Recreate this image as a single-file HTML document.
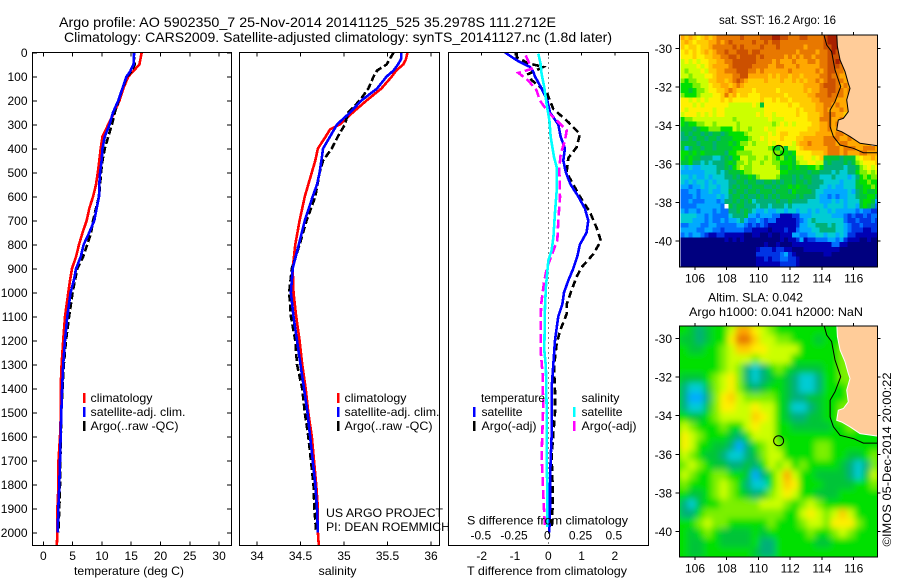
<!DOCTYPE html>
<html lang="en">
<head>
<meta charset="utf-8">
<title>Argo profile 5902350_7</title>
<style>
html,body{margin:0;padding:0;background:#fff;}
svg{display:block;}
text{font-family:"Liberation Sans",sans-serif;font-size:12px;fill:#000;}
.title{font-size:14px;}
</style>
</head>
<body>
<svg id="fig" xmlns="http://www.w3.org/2000/svg" width="900" height="580" viewBox="0 0 900 580">
  <defs>
    <clipPath id="clipP1"><rect x="33" y="53" width="198" height="492"/></clipPath>
    <clipPath id="clipP2"><rect x="240" y="53" width="199" height="492"/></clipPath>
    <clipPath id="clipP3"><rect x="449" y="53" width="199" height="492"/></clipPath>
    <clipPath id="clipM1"><rect x="680" y="35" width="197.5" height="232"/></clipPath>
    <clipPath id="clipM2"><rect x="680" y="326" width="197.5" height="231"/></clipPath>
    <filter id="smooth" x="-10%" y="-10%" width="120%" height="120%"><feGaussianBlur stdDeviation="3.2"/></filter>
  </defs>

  <text class="title" x="59" y="27" textLength="497" lengthAdjust="spacingAndGlyphs">Argo profile: AO 5902350_7 25-Nov-2014 20141125_525 35.2978S 111.2712E</text>
  <text class="title" x="64" y="42" textLength="548" lengthAdjust="spacingAndGlyphs">Climatology: CARS2009. Satellite-adjusted climatology: synTS_20141127.nc (1.8d later)</text>

  <g id="p1"></g>
  <g id="p2"></g>
  <g id="p3"></g>

  <g>
    <rect x="83" y="393" width="2.5" height="10" fill="#ff0000"/>
    <text x="90.5" y="402" textLength="62" lengthAdjust="spacingAndGlyphs">climatology</text>
    <rect x="83" y="407" width="2.5" height="10" fill="#0000ff"/>
    <text x="90.5" y="416" textLength="95" lengthAdjust="spacingAndGlyphs">satellite-adj. clim.</text>
    <rect x="83" y="421" width="2.5" height="10" fill="#000"/>
    <text x="90.5" y="430" textLength="88" lengthAdjust="spacingAndGlyphs">Argo(..raw -QC)</text>
  </g>
  <g>
    <rect x="337" y="393" width="2.5" height="10" fill="#ff0000"/>
    <text x="344.5" y="402" textLength="62" lengthAdjust="spacingAndGlyphs">climatology</text>
    <rect x="337" y="407" width="2.5" height="10" fill="#0000ff"/>
    <text x="344.5" y="416" textLength="95" lengthAdjust="spacingAndGlyphs">satellite-adj. clim.</text>
    <rect x="337" y="421" width="2.5" height="10" fill="#000"/>
    <text x="344.5" y="430" textLength="88" lengthAdjust="spacingAndGlyphs">Argo(..raw -QC)</text>
    <text x="326" y="517" textLength="117" lengthAdjust="spacingAndGlyphs">US ARGO PROJECT</text>
    <text x="326" y="531" textLength="124" lengthAdjust="spacingAndGlyphs">PI: DEAN ROEMMICH</text>
  </g>
  <g>
    <text x="481" y="402" textLength="64" lengthAdjust="spacingAndGlyphs">temperature</text>
    <rect x="473" y="407" width="2.5" height="10" fill="#0000ff"/>
    <text x="481.5" y="416" textLength="41" lengthAdjust="spacingAndGlyphs">satellite</text>
    <rect x="473" y="421" width="2.5" height="10" fill="#000"/>
    <text x="481.5" y="430" textLength="55" lengthAdjust="spacingAndGlyphs">Argo(-adj)</text>
    <text x="581.5" y="402" textLength="38" lengthAdjust="spacingAndGlyphs">salinity</text>
    <rect x="573" y="407" width="2.5" height="10" fill="#00ffff"/>
    <text x="581.5" y="416" textLength="41" lengthAdjust="spacingAndGlyphs">satellite</text>
    <rect x="573" y="421" width="2.5" height="10" fill="#ff00ff"/>
    <text x="581.5" y="430" textLength="55" lengthAdjust="spacingAndGlyphs">Argo(-adj)</text>
  </g>

  <g id="m1"></g>
  <g id="m2"></g>

  <text x="719" y="24" textLength="117" lengthAdjust="spacingAndGlyphs">sat. SST: 16.2 Argo: 16</text>
  <text x="708" y="301.5" textLength="95" lengthAdjust="spacingAndGlyphs">Altim. SLA: 0.042</text>
  <text x="689" y="316" textLength="174" lengthAdjust="spacingAndGlyphs">Argo h1000: 0.041 h2000: NaN</text>
  <text transform="translate(891,546.5) rotate(-90)" textLength="174" lengthAdjust="spacingAndGlyphs">©IMOS 05-Dec-2014 20:00:22</text>
</svg>

<script>
// ---------- profile data ----------
const depthTicks = [0,100,200,300,400,500,600,700,800,900,1000,1100,1200,1300,1400,1500,1600,1700,1800,1900,2000];
const tempTicks = [0,5,10,15,20,25,30];
const salTicks = [34,34.5,35,35.5,36];
const salTickLabels = ['34','34.5','35','35.5','36'];
const tDiffTicks = [-2,-1,0,1,2];
const sDiffTicks = [-0.5,-0.25,0,0.25,0.5];
const sDiffTickLabels = ['-0.5','-0.25','0','0.25','0.5'];

const climTDepth = [0,50,100,150,200,250,300,350,400,450,500,550,600,650,700,750,800,850,900,950,1000,1100,1200,1300,1400,1500,1600,1700,1800,1900,2000,2055];
const climT = [16.8,16.4,14.5,13.65,13,12.1,11.1,10.1,9.8,9.55,9.3,9,8.5,7.85,7.4,6.7,6.1,5.6,4.9,4.55,4.27,3.7,3.4,3.13,2.96,3,2.85,2.6,2.6,2.4,2.4,2.3];
const satTDepth = [0,50,80,100,150,200,250,300,350,400,450,500,550,600,650,700,750,800,850,900,950,1000,1100,1200,1300,1400,1500,1600,1700,1800,1900,2000];
const satT = [15.5,15.4,14.8,14.2,13.5,12.8,11.9,11.3,10.5,10.1,9.95,9.7,9.55,9.5,9.1,8.7,7.85,6.9,6.4,5.6,5.2,4.66,4.1,3.7,3.4,3.2,3.07,2.96,2.85,2.73,2.56,2.45];
const argoTDepth = [0,50,80,100,150,200,250,300,350,400,450,500,550,600,650,700,750,800,850,900,950,1000,1100,1200,1300,1400,1500,1600,1700,1800,1900,2000];
const argoT = [15.4,15.6,15,14.3,13.5,12.85,12.2,11.7,11.1,10.5,10.1,9.85,9.7,9.5,9,8.5,8.15,7.5,6.83,5.8,5.4,5,4.4,3.87,3.5,3.3,3.07,3,2.9,2.85,2.73,2.56];

const climSDepth = [0,30,50,75,100,150,200,250,300,320,350,400,450,500,600,700,800,900,1000,1100,1200,1300,1400,1500,1600,1700,1800,1900,2000,2055];
const climS = [35.73,35.71,35.68,35.6,35.55,35.43,35.26,35.1,34.95,34.84,34.79,34.7,34.67,34.63,34.55,34.49,34.44,34.41,34.42,34.45,34.49,34.52,34.56,34.59,34.63,34.655,34.68,34.7,34.7,34.71];
const satSDepth = [0,25,50,75,100,150,200,250,300,350,400,450,500,550,600,700,800,900,1000,1100,1200,1300,1400,1500,1600,1700,1800,1900,2000];
const satS = [35.66,35.66,35.62,35.57,35.49,35.38,35.2,35.07,34.92,34.84,34.76,34.74,34.72,34.69,34.64,34.55,34.48,34.41,34.39,34.42,34.46,34.5,34.54,34.58,34.61,34.64,34.67,34.69,34.7];
const argoSDepth = [0,25,50,75,100,150,200,250,300,350,400,450,500,600,700,800,900,1000,1100,1200,1300,1400,1500,1600,1700,1800,1900,2000];
const argoS = [35.57,35.53,35.49,35.38,35.34,35.28,35.18,35.05,35.01,34.93,34.86,34.76,34.72,34.67,34.57,34.49,34.4,34.37,34.39,34.44,34.46,34.52,34.55,34.59,34.62,34.65,34.66,34.68];

const tSatDepth = [0,25,40,60,80,100,150,200,250,300,350,400,450,500,550,600,650,700,750,800,850,900,950,1000,1050,1100,1150,1200,1300,1400,1500,1600,1700,1800,1900,2000];
const tSatDiff = [-1.3,-1.03,-0.85,-0.55,-0.45,-0.4,-0.2,-0.03,0.05,0.3,0.37,0.5,0.45,0.53,0.67,0.9,1.1,1.2,1.15,0.95,0.87,0.75,0.6,0.47,0.42,0.3,0.25,0.2,0.15,0.1,0.1,0.1,0.07,0.05,0.05,0.03];
const tArgoDepth = [0,20,45,60,90,115,165,235,290,340,395,440,500,600,665,730,785,840,895,935,990,1050,1090,1160,1215,1310,1410,1500,1680,1800,1895,1980];
const tArgoDiff = [-0.95,-0.95,-0.6,-0.15,-0.6,-0.5,-0.05,0.15,0.6,0.95,0.85,0.6,0.55,0.95,1.25,1.45,1.58,1.35,1.0,0.85,0.7,0.55,0.55,0.35,0.25,0.17,0.2,0.2,0.1,0.13,0.13,0.1];
const sSatDepth = [5,47,90,145,215,283,353,436,478,575,672,770,825,867,978,1060,1240,1310,1475,1655,1810,1978];
const sSatDiff = [-0.075,-0.058,-0.05,-0.03,-0.013,0.008,0.018,0.043,0.063,0.063,0.05,0.038,0.025,0,-0.018,-0.025,-0.03,-0.018,-0.013,-0.013,-0.008,-0.008];
const sArgoDepth = [12,68,85,117,158,200,249,283,325,367,422,485,603,700,783,825,894,950,1033,1060,1240,1340,1475,1680,1895,1978];
const sArgoDiff = [-0.17,-0.125,-0.225,-0.15,-0.088,-0.063,0,0.063,0.138,0.125,0.093,0.083,0.088,0.075,0.068,0.038,-0.008,-0.03,-0.05,-0.055,-0.058,-0.043,-0.038,-0.05,-0.033,-0.025];

// ---------- map data ----------
const mapLonTicks = [106,108,110,112,114,116];
const mapLatTicks = [-30,-32,-34,-36,-38,-40];
const profileLon = [111.27];
const profileLat = [-35.3];
const colorLevels = ['#00007f','#0000b4','#0034e4','#0070ff','#00aaff','#00ccd4','#00b078','#00c438','#00e000','#7cf000','#ccff00','#fff000','#ffcc00','#ffa800','#e87800','#cc5000','#a82000'];
const coastLon = [114.93,114.97,115.14,115.45,115.66,115.77,115.56,115.66,115.35,115.03,114.93,115.24,115.77,116.4,117.6];
const coastLat = [-29.2,-29.91,-30.61,-31.21,-31.82,-32.08,-32.68,-33.29,-33.63,-33.72,-34.24,-34.33,-34.58,-34.93,-35.07];
const isobathLon = [114.09,114.3,114.61,114.82,115.18,114.82,114.51,114.51,114.72,115.14,115.98,116.61,117.6];
const isobathLat = [-29.2,-29.83,-30.17,-31.12,-31.99,-32.77,-33.2,-34.07,-34.58,-35.02,-35.19,-35.42,-35.42];

// colour level per 0.25-degree cell (north to south, west to east); cells under land are omitted
const sstRows = [
[13,12,13,12,11,12,13,12,13,14,14,14,14,14,14,15,14,14,14,14,15,15,15,16,16,15,15,14,14,14,15,15,14,14,14,14,15,16,16,16],
[12,13,12,11,12,12,12,13,13,14,13,14,15,14,14,14,14,14,15,14,14,15,14,15,15,14,14,14,14,14,14,14,14,14,14,14,15,16,16,16],
[12,11,12,12,11,12,12,13,14,14,14,14,14,15,14,15,14,14,14,14,15,14,14,14,15,14,14,14,14,14,14,13,14,14,14,14,15,15,16,16],
[11,12,11,12,11,12,13,12,13,14,14,15,14,14,15,15,15,14,15,15,14,14,14,14,14,14,14,14,14,13,14,14,14,14,13,14,14,15,16,15,15],
[11,11,11,12,11,11,12,12,13,13,14,14,15,15,14,15,15,15,15,14,15,14,14,14,14,14,13,14,13,14,13,14,14,13,14,14,14,15,15,15,15],
[10,11,10,11,10,11,11,12,12,13,13,14,14,15,15,15,15,15,15,14,14,14,14,13,14,13,13,13,14,13,13,13,14,14,13,14,14,15,15,16,15],
[10,10,10,10,11,10,11,12,13,13,13,13,14,15,15,15,15,15,14,14,14,14,13,13,14,14,13,13,13,14,13,13,13,13,13,14,14,15,15,15,14],
[10,9,10,10,10,11,10,12,12,13,13,14,14,14,15,15,15,14,14,13,14,13,13,13,13,13,13,14,13,13,13,13,13,13,14,13,14,15,15,14,14,13],
[10,10,9,10,10,10,11,11,12,13,13,13,13,14,14,15,15,13,13,13,13,13,12,13,12,13,13,12,13,13,12,13,13,13,13,14,14,15,14,14,13,13],
[9,8,9,9,10,10,10,12,12,13,13,12,13,14,15,14,13,12,12,12,12,13,12,12,12,13,12,12,13,12,13,12,13,13,14,13,14,15,15,14,14,13,13],
[8,8,8,9,9,10,10,11,12,12,13,13,12,13,14,13,12,12,12,12,12,12,12,12,12,12,12,12,12,12,12,13,13,13,13,14,15,15,15,14,13,14,13,13],
[8,8,7,8,9,9,10,11,11,12,12,13,14,13,12,12,12,12,11,12,12,12,12,12,11,12,12,12,12,12,12,13,12,13,13,14,14,15,15,14,14,13,14,14],
[9,8,8,8,9,10,10,10,11,11,12,14,12,13,11,12,12,11,11,11,12,12,12,12,12,12,11,12,12,12,12,12,13,13,14,14,14,15,14,14,14,13,14,14],
[11,11,10,11,10,11,10,11,11,11,12,11,12,11,11,11,11,11,11,11,12,11,11,12,11,12,12,11,12,12,12,12,12,13,13,14,14,14,14,13,13,13,14,14],
[11,11,11,10,11,10,11,11,11,11,11,11,10,10,10,10,10,10,11,10,7,11,11,11,11,11,11,12,11,11,12,12,12,12,13,13,14,14,13,14,13,13,13,13],
[11,10,11,11,11,11,11,11,10,11,11,10,10,10,10,10,10,10,10,10,10,11,11,11,11,11,11,11,11,12,11,12,12,12,13,13,14,13,13,13,14,13,13,13],
[10,11,11,11,10,11,10,11,10,11,11,10,10,10,10,10,10,10,10,11,10,11,11,10,11,11,11,11,11,12,11,11,12,12,12,13,14,14,14,13,13,12,13,13],
[8,9,9,10,10,10,10,10,10,10,10,10,10,9,10,10,10,10,10,10,10,10,11,10,10,10,11,11,11,11,11,11,12,12,12,14,14,14,13,13,14,13,13,13],
[8,7,8,8,9,9,10,10,9,10,10,10,10,10,9,10,10,10,10,10,10,10,10,9,10,11,10,11,10,11,11,11,11,12,12,13,13,14,13,14,13,13,13],
[7,7,7,6,7,8,8,9,9,9,8,8,8,10,9,10,10,9,10,10,10,11,10,10,11,11,11,11,11,11,11,11,12,12,12,13,13,14,13,13,13,13],
[6,7,6,7,7,6,7,6,7,7,6,7,8,8,8,8,9,10,10,10,10,10,11,10,11,12,12,11,11,11,12,12,12,12,13,13,13,13,13,14,14,13,13,13],
[6,6,7,6,7,7,6,7,7,6,7,7,7,8,8,8,8,9,10,10,11,10,11,11,11,12,11,11,11,12,12,13,13,13,13,13,14,14,14,14,13,13,14,13,13,13],
[7,7,7,7,6,7,7,7,6,7,7,7,8,7,8,9,9,10,9,10,10,10,11,10,11,11,11,11,10,12,13,13,14,13,13,13,14,14,14,13,14,14,13,13,13,13,13,13],
[7,4,6,7,7,6,7,7,6,7,7,7,7,8,8,8,10,10,10,10,10,10,9,8,7,9,7,10,10,11,12,13,13,13,13,13,13,14,14,14,13,14,14,14,13,13,14,14,14,13],
[8,8,7,8,7,8,7,7,7,7,7,6,8,8,9,9,9,9,10,10,10,10,10,9,9,8,8,7,8,11,11,11,11,12,12,12,13,14,14,14,13,14,13,13,13,14,14,13,13,13],
[8,7,8,7,7,6,6,6,5,5,6,7,6,8,8,10,10,9,9,10,10,9,10,9,8,9,7,8,7,10,10,11,11,10,11,12,7,7,7,7,6,7,7,7,10,11,12,12,13,12],
[7,7,8,6,6,5,6,5,6,6,6,7,8,7,9,9,10,9,10,10,9,10,10,9,9,8,8,8,7,9,10,10,11,11,10,10,6,7,6,6,6,7,6,7,9,10,11,11,11,12],
[5,4,5,4,4,5,5,5,5,6,6,7,6,8,9,10,9,9,10,10,10,10,10,10,9,7,7,8,7,8,7,7,8,8,9,8,6,6,6,6,6,5,6,6,7,9,10,11,10,11],
[4,4,4,4,4,4,5,5,5,6,5,6,7,7,7,8,9,9,10,10,10,10,10,10,10,8,8,7,7,7,7,7,6,7,7,6,6,6,5,6,5,5,6,6,8,9,9,10,9,10],
[5,5,4,5,4,4,5,4,5,5,5,6,6,7,6,7,7,8,7,9,10,10,10,10,9,7,7,7,6,7,6,7,7,6,6,5,5,5,6,5,5,5,4,5,6,8,9,8,9,9],
[5,4,5,4,5,5,4,5,4,5,5,5,6,6,7,7,6,7,7,6,6,7,7,6,7,6,7,7,6,7,7,6,7,6,6,6,5,5,5,5,4,5,5,5,7,8,8,9,8,8],
[4,4,3,4,4,5,4,5,5,4,5,5,6,7,6,7,7,6,7,7,7,6,6,7,6,7,7,8,7,8,7,7,6,6,6,5,5,4,5,4,4,5,5,5,7,7,8,8,9,8],
[3,3,4,4,3,4,4,5,4,4,5,5,7,6,7,7,6,7,7,6,7,7,7,6,7,7,7,6,8,7,7,7,7,6,5,5,4,4,4,4,4,4,5,4,6,7,8,7,7,8],
[3,3,3,4,3,4,4,4,4,5,4,5,6,7,7,6,7,6,6,7,6,7,6,7,6,7,7,7,7,6,7,6,6,6,5,4,4,3,4,3,4,4,5,5,6,7,7,8,8,6],
[3,3,4,3,3,3,4,4,4,3,4,6,6,7,6,7,6,7,5,6,6,6,6,6,7,6,6,7,6,6,6,6,5,5,5,4,4,4,5,4,5,4,5,5,5,7,8,8,7,4],
[3,3,3,3,4,4,4,4,4,4,3,null,7,6,7,7,6,6,6,5,6,6,5,6,6,6,5,6,5,5,5,5,5,5,5,5,4,5,5,5,5,4,5,5,4,7,8,7,6,3],
[4,3,4,4,3,4,4,4,3,4,3,3,6,6,7,6,7,6,5,4,4,5,4,4,5,5,4,5,5,4,5,5,4,5,4,5,5,4,5,4,4,4,4,4,3,4,3,3,2,2],
[5,5,5,5,4,4,3,4,3,3,3,3,5,6,6,6,7,4,4,3,4,4,4,3,3,1,1,1,2,2,4,4,4,5,5,5,5,5,4,4,4,3,2,3,2,2,3,2,3,3],
[5,5,5,4,4,4,3,4,3,3,4,3,4,4,5,6,4,3,3,4,3,2,3,3,1,1,1,1,1,2,3,4,5,6,5,5,5,5,5,5,5,3,2,2,3,2,2,2,3,2],
[3,3,4,4,4,3,3,4,4,3,3,3,3,3,4,4,3,2,3,2,3,2,1,1,1,1,1,1,1,2,4,4,5,5,6,6,6,5,6,5,5,4,3,2,2,3,2,2,2,2],
[4,4,4,4,3,3,4,4,3,3,2,3,3,3,3,3,2,2,1,1,1,1,0,1,1,1,2,1,1,3,4,4,4,5,5,6,6,6,6,5,5,4,3,2,2,2,1,1,2,2],
[3,4,3,4,4,3,2,1,1,2,2,1,1,1,1,1,0,0,1,1,0,0,1,0,0,1,1,1,4,4,3,3,4,4,5,5,4,5,5,4,5,4,2,2,1,1,1,1,1,1],
[0,0,0,0,0,0,0,0,0,0,0,1,0,1,0,1,0,0,0,0,0,0,0,0,0,1,0,1,1,2,4,1,2,2,3,3,3,4,4,3,4,2,1,1,1,0,0,1,0,0],
[0,0,0,0,0,0,0,0,0,0,0,0,0,0,0,0,0,0,0,0,0,1,0,0,1,0,0,0,1,1,1,1,1,1,1,1,1,1,3,3,1,1,0,0,0,0,0,0,0,0],
[0,0,0,0,0,0,0,0,0,0,0,0,0,0,0,0,0,0,0,1,2,2,2,1,2,2,1,1,0,0,0,1,1,1,1,1,1,1,1,1,0,0,0,0,0,0,0,0,0,0],
[0,0,0,0,0,0,0,0,0,0,0,0,0,0,0,0,0,0,0,2,2,2,2,2,2,3,4,2,1,0,0,0,0,0,0,0,1,1,0,0,0,0,0,0,0,0,0,0,0,0],
[0,0,0,0,0,0,0,0,0,0,0,0,0,0,0,0,0,0,0,1,1,2,1,2,2,3,3,2,2,1,0,0,0,0,0,0,0,0,0,0,0,0,0,0,0,0,0,0,0,0],
[0,0,0,0,0,0,0,0,0,0,0,0,0,0,0,0,0,0,0,1,1,1,1,1,1,2,2,2,2,1,0,0,0,0,0,0,0,0,0,0,0,0,0,0,0,0,0,0,0,0]
];

// colour level per 0.5-degree cell
const slaRows = [
[8,7,6,7,8,8,10,13,13,11,10,9,8,8,8,8,8,8,8,8,8,8],
[7,7,6,7,8,8,11,14,14,12,10,10,9,9,8,8,8,7,8,8,8,9],
[8,7,7,8,8,9,10,12,12,11,11,10,10,10,10,8,8,8,8,8,9,9],
[8,8,8,8,8,9,10,10,10,9,10,10,10,10,8,8,8,8,8,8,9,9],
[8,8,8,8,8,9,10,9,6,5,6,8,9,8,7,7,7,7,8,8,9,9],
[7,7,7,8,9,10,11,9,6,5,6,7,8,7,6,5,5,6,8,8,9,9,8],
[6,5,5,7,9,10,11,9,7,6,7,8,8,7,6,5,5,6,8,8,8,9],
[6,4,4,6,9,11,12,10,9,9,9,9,8,7,6,6,7,7,8,8,8,9],
[6,5,5,7,9,11,11,10,10,11,10,10,8,7,5,5,6,7,8,8,9,9],
[8,7,7,8,9,10,10,10,10,12,11,10,8,7,6,6,7,7,8,8,9],
[10,9,8,8,8,9,8,8,10,11,10,10,8,8,7,7,7,7,7,8,8,9],
[11,10,9,8,8,8,7,6,8,10,10,10,8,8,8,8,8,8,8,8,8,8,8,8,8],
[11,10,8,8,7,7,6,4,6,8,9,10,9,8,8,8,8,9,9,8,8,8,8,8,8],
[10,9,8,7,7,6,5,5,6,7,9,10,10,8,8,8,8,9,9,8,8,7,7,8,9],
[9,10,9,8,7,7,6,6,7,6,8,10,9,10,8,9,8,8,8,8,7,6,5,6,9],
[10,9,8,8,9,9,8,8,7,4,6,8,10,13,10,8,8,7,7,7,7,6,5,7,10],
[9,8,8,8,9,10,9,8,6,5,5,8,10,12,11,8,8,8,7,7,7,7,8,8,9],
[8,7,7,8,9,10,9,8,7,6,7,9,10,11,10,8,8,7,7,7,8,8,8,8,8],
[6,5,7,8,8,9,9,9,9,9,10,10,10,9,8,9,10,9,8,8,8,8,8,8,8],
[6,6,8,9,9,9,9,9,9,9,9,9,9,8,8,10,11,10,9,10,12,10,8,8,8],
[8,8,9,10,9,9,8,8,8,8,8,9,8,8,8,9,10,10,9,11,11,11,9,8,8],
[8,7,8,9,8,7,7,7,7,8,7,8,8,8,8,8,9,8,8,9,10,9,8,8,8],
[8,7,7,8,8,7,7,7,7,8,6,6,8,8,8,8,8,7,7,8,8,8,8,8,8],
[8,7,7,8,8,8,8,8,8,7,6,6,8,8,8,8,8,8,8,8,8,8,8,8,8]
];

// ---------- scales ----------
const NS = 'http://www.w3.org/2000/svg';
const depthY = d => 52.5 + d * 0.24;
const tempX = v => 43.3 + v * 5.86;
const salX = v => 257 + (v - 34) * 87;
const tDiffX = v => 548.3 + v * 33.3;
const sDiffX = v => 548.3 + v * 133;
const lonX = v => 695 + (v - 106) * 15.87;
const lat1Y = v => 48.3 + (-30 - v) * 19.27;
const lat2Y = v => 338.3 + (-30 - v) * 19.33;

function mk(parent, tag, attrs, txt) {
  const el = document.createElementNS(NS, tag);
  for (const k in attrs) el.setAttribute(k, attrs[k]);
  if (txt !== undefined) el.textContent = txt;
  parent.appendChild(el);
  return el;
}
function linePath(xs, ds, xf) {
  return xs.map((v, i) => (i ? 'L' : 'M') + xf(v).toFixed(1) + ' ' + depthY(ds[i]).toFixed(1)).join('');
}
function series(parent, xs, ds, xf, color, dash, clip) {
  const attrs = {d: linePath(xs, ds, xf), fill: 'none', stroke: color, 'stroke-width': 2.6, 'shape-rendering': 'crispEdges', 'clip-path': 'url(#' + clip + ')'};
  if (dash) attrs['stroke-dasharray'] = dash;
  return mk(parent, 'path', attrs);
}
function frame(parent, x0, x1, y0, y1) {
  return mk(parent, 'rect', {x: x0, y: y0, width: x1 - x0, height: y1 - y0, fill: 'none', stroke: '#000', 'stroke-width': 1, 'shape-rendering': 'crispEdges'});
}
function tick(parent, x1, y1, x2, y2) {
  return mk(parent, 'line', {x1: x1, y1: y1, x2: x2, y2: y2, stroke: '#000', 'stroke-width': 1, 'shape-rendering': 'crispEdges'});
}

const TOP = 52.5, BOT = 545.5;

// ---------- panel 1 : temperature ----------
const p1 = document.getElementById('p1');
const p1Clim = series(p1, climT, climTDepth, tempX, '#ff0000', null, 'clipP1');


const p1Argo = series(p1, argoT, argoTDepth, tempX, '#000000', '7 3', 'clipP1');


const p1Sat = series(p1, satT, satTDepth, tempX, '#0000ff', null, 'clipP1');


const p1Frame = frame(p1, 32.5, 231.5, TOP, BOT);


depthTicks.forEach(d => {
  const y = Math.round(depthY(d));
  const a = tick(p1, 32.5, y, 37, y);
  
  
  const b = tick(p1, 227, y, 231.5, y);
  
  
  const t = mk(p1, 'text', {x: 27.5, y: depthY(d) + 4.5, 'text-anchor': 'end'}, String(d));
  
  
});
tempTicks.forEach(v => {
  const x = tempX(v);
  const a = tick(p1, x, TOP, x, TOP + 4);
  
  
  const b = tick(p1, x, BOT - 4, x, BOT);
  
  
  const t = mk(p1, 'text', {x: x, y: 560, 'text-anchor': 'middle'}, String(v));
  
  
});
const p1Title = mk(p1, 'text', {x: 74, y: 575, textLength: 110, lengthAdjust: 'spacingAndGlyphs'}, 'temperature (deg C)');



// ---------- panel 2 : salinity ----------
const p2 = document.getElementById('p2');
const p2Clim = series(p2, climS, climSDepth, salX, '#ff0000', null, 'clipP2');


const p2Argo = series(p2, argoS, argoSDepth, salX, '#000000', '7 3', 'clipP2');


const p2Sat = series(p2, satS, satSDepth, salX, '#0000ff', null, 'clipP2');


const p2Frame = frame(p2, 239.5, 439.5, TOP, BOT);


salTicks.forEach((v, i) => {
  const x = salX(v);
  const a = tick(p2, x, TOP, x, TOP + 4);
  
  
  const b = tick(p2, x, BOT - 4, x, BOT);
  
  
  const t = mk(p2, 'text', {x: x, y: 560, 'text-anchor': 'middle'}, salTickLabels[i]);
  
  
});
const p2Title = mk(p2, 'text', {x: 318.5, y: 575, textLength: 38, lengthAdjust: 'spacingAndGlyphs'}, 'salinity');



// ---------- panel 3 : differences ----------
const p3 = document.getElementById('p3');
const zeroLine = mk(p3, 'line', {x1: tDiffX(0), y1: TOP, x2: tDiffX(0), y2: BOT, stroke: '#000', 'stroke-width': 1, 'stroke-dasharray': '1 4', 'shape-rendering': 'crispEdges'});


const p3TArgo = series(p3, tArgoDiff, tArgoDepth, tDiffX, '#000000', '7 4', 'clipP3');


const p3TSat = series(p3, tSatDiff, tSatDepth, tDiffX, '#0000ff', null, 'clipP3');


const p3SArgo = series(p3, sArgoDiff, sArgoDepth, sDiffX, '#ff00ff', '9 4', 'clipP3');


const p3SSat = series(p3, sSatDiff, sSatDepth, sDiffX, '#00ffff', null, 'clipP3');


const p3Frame = frame(p3, 448.5, 648.5, TOP, BOT);


tDiffTicks.forEach(v => {
  const x = tDiffX(v);
  const a = tick(p3, x, TOP, x, TOP + 3);
  
  
  const t = mk(p3, 'text', {x: x, y: 560, 'text-anchor': 'middle'}, String(v));
  
  
});
sDiffTicks.forEach((v, i) => {
  const t = mk(p3, 'text', {x: sDiffX(v) - 1, y: 539.5, 'text-anchor': 'middle'}, sDiffTickLabels[i]);
  
  
});
const p3STitle = mk(p3, 'text', {x: 467, y: 524.5, textLength: 161, lengthAdjust: 'spacingAndGlyphs'}, 'S difference from climatology');


const p3TTitle = mk(p3, 'text', {x: 467, y: 575, textLength: 160, lengthAdjust: 'spacingAndGlyphs'}, 'T difference from climatology');



// ---------- maps ----------
function coastPoints(latY) {
  const pts = coastLon.map((v, i) => lonX(v).toFixed(1) + ',' + latY(coastLat[i]).toFixed(1));
  return pts;
}
function mapDecor(g, latY, clip, yTop, yBot, labelY, mapKey, coastStroke) {
  const land = mk(g, 'polygon', {points: coastPoints(latY).concat([lonX(117.6) + ',' + latY(-29.2)]).join(' '), fill: '#ffcc99', stroke: coastStroke, 'stroke-width': 1, 'clip-path': 'url(#' + clip + ')'});
  
  
  const iso = mk(g, 'polyline', {points: isobathLon.map((v, i) => lonX(v).toFixed(1) + ',' + latY(isobathLat[i]).toFixed(1)).join(' '), fill: 'none', stroke: '#000', 'stroke-width': 1, 'clip-path': 'url(#' + clip + ')'});
  
  
  const marker = mk(g, 'circle', {cx: lonX(profileLon[0]), cy: latY(profileLat[0]), r: 5, fill: 'none', stroke: '#000', 'stroke-width': 1});
  
  
  const box = frame(g, 679.5, 877.5, yTop, yBot);
  
  
  mapLonTicks.forEach(v => {
    const x = lonX(v);
    const a = tick(g, x, yTop - 3, x, yTop);
    
    
    const b = tick(g, x, yBot, x, yBot + 3);
    
    
    const t = mk(g, 'text', {x: x, y: labelY, 'text-anchor': 'middle'}, String(v));
    
    
  });
  mapLatTicks.forEach(v => {
    const y = latY(v);
    const a = tick(g, 675.5, y, 679.5, y);
    
    
    const b = tick(g, 877.5, y, 880.5, y);
    
    
    const t = mk(g, 'text', {x: 672, y: y + 4.5, 'text-anchor': 'end'}, String(v));
    
    
  });
}

// SST heatmap
const m1 = document.getElementById('m1');
const sstCells = mk(m1, 'g', {'clip-path': 'url(#clipM1)', 'shape-rendering': 'crispEdges'});


const sstLon0 = 105.1, sstLat0 = -29.31, sstStep = 0.25;
sstRows.forEach((row, r) => {
  row.forEach((level, c) => {
    if (level === null) return;
    const x0 = lonX(sstLon0 + c * sstStep), x1 = lonX(sstLon0 + (c + 1) * sstStep);
    const y0 = lat1Y(sstLat0 - r * sstStep), y1 = lat1Y(sstLat0 - (r + 1) * sstStep);
    const cell = mk(sstCells, 'rect', {x: x0.toFixed(2), y: y0.toFixed(2), width: (x1 - x0 + 0.3).toFixed(2), height: (y1 - y0 + 0.3).toFixed(2), fill: colorLevels[level]});
    
    
  });
});
mapDecor(m1, lat1Y, 'clipM1', 35, 267, 282.5, 'sst', '#000');

// SLA heatmap
const m2 = document.getElementById('m2');
const slaClip = mk(m2, 'g', {'clip-path': 'url(#clipM2)'});


const slaCells = mk(slaClip, 'g', {filter: 'url(#smooth)'});


const slaBack = mk(slaCells, 'rect', {x: 660, y: 305, width: 240, height: 275, fill: colorLevels[8]});


const slaLon0 = 105.05, slaLat0 = -29.32, slaStep = 0.5;
slaRows.forEach((row, r) => {
  row.forEach((level, c) => {
    const x0 = lonX(slaLon0 + c * slaStep), x1 = lonX(slaLon0 + (c + 1) * slaStep);
    const y0 = lat2Y(slaLat0 - r * slaStep), y1 = lat2Y(slaLat0 - (r + 1) * slaStep);
    const cell = mk(slaCells, 'rect', {x: x0.toFixed(2), y: y0.toFixed(2), width: (x1 - x0 + 0.3).toFixed(2), height: (y1 - y0 + 0.3).toFixed(2), fill: colorLevels[level]});
    
    
  });
});
mapDecor(m2, lat2Y, 'clipM2', 326, 557, 572.5, 'sla', '#ffffff');
</script>
</body>
</html>
